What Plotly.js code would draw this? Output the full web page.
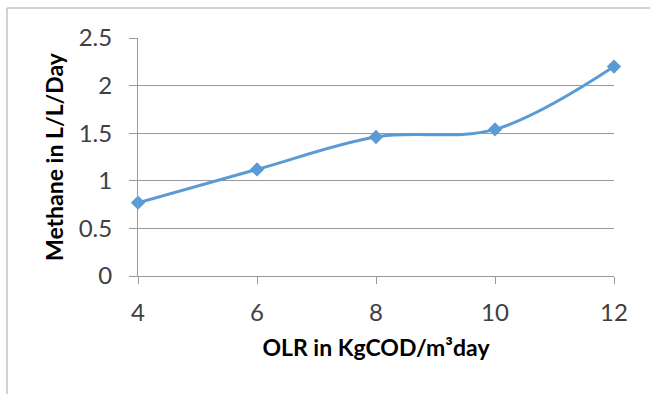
<!DOCTYPE html>
<html><head><meta charset="utf-8">
<script src="https://cdn.plot.ly/plotly-3.0.1.min.js"></script>
<style>html,body{margin:0;padding:0;background:#fff}#chart{width:650px;height:394px}</style>
</head><body><div id="chart"></div>
<script>
const olr = [4, 6, 8, 10, 12];
const methane = [0.77, 1.12, 1.46, 1.54, 2.2];
const xTicks = [4, 6, 8, 10, 12];
const yTicks = [0, 0.5, 1, 1.5, 2, 2.5];
const yTickText = ['0', '0.5', '1', '1.5', '2', '2.5'];

const font = 'Lato, Carlito, "Open Sans", sans-serif';
Plotly.newPlot('chart', [{
  x: olr, y: methane, type: 'scatter', mode: 'lines+markers',
  line: {color: '#5b9bd5', width: 3, shape: 'spline', smoothing: 1},
  marker: {symbol: 'diamond', size: 11, color: '#5b9bd5'},
  cliponaxis: false, hoverinfo: 'skip'
}], {
  width: 650, height: 394,
  margin: {l: 138, r: 36, t: 38, b: 118},
  paper_bgcolor: '#fff', plot_bgcolor: '#fff',
  showlegend: false,
  font: {family: font, color: '#404040', size: 24},
  xaxis: {
    range: [4, 12], tickvals: xTicks, ticktext: xTicks.map(String),
    showgrid: false, zeroline: false,
    showline: true, linecolor: '#9a9a9a', linewidth: 1,
    ticks: 'outside', ticklen: 7, tickcolor: '#9a9a9a',
    ticklabelstandoff: 8,
    tickfont: {family: font, size: 24, color: '#404040'},
    title: {text: '<b>OLR in KgCOD/m³day</b>', font: {family: font, size: 23, color: '#000'}, standoff: 15}
  },
  yaxis: {
    range: [0, 2.5], tickvals: yTicks, ticktext: yTickText,
    showgrid: true, gridcolor: '#9a9a9a', gridwidth: 1, zeroline: false,
    showline: true, linecolor: '#9a9a9a', linewidth: 1,
    ticks: 'outside', ticklen: 8, tickcolor: '#9a9a9a',
    ticklabelstandoff: 12,
    tickfont: {family: font, size: 24, color: '#404040'},
    title: {text: '<b>Methane in L/L/Day</b>', font: {family: font, size: 23, color: '#000'}, standoff: 8}
  },
  shapes: [{
    type: 'rect', xref: 'paper', yref: 'paper',
    x0: (7 - 138) / 476, x1: 1.3, y0: -0.8, y1: (276 - 8) / 238,
    line: {color: '#a6a6a6', width: 1}, fillcolor: 'rgba(0,0,0,0)', layer: 'below'
  }]
}, {staticPlot: true});
</script></body></html>
